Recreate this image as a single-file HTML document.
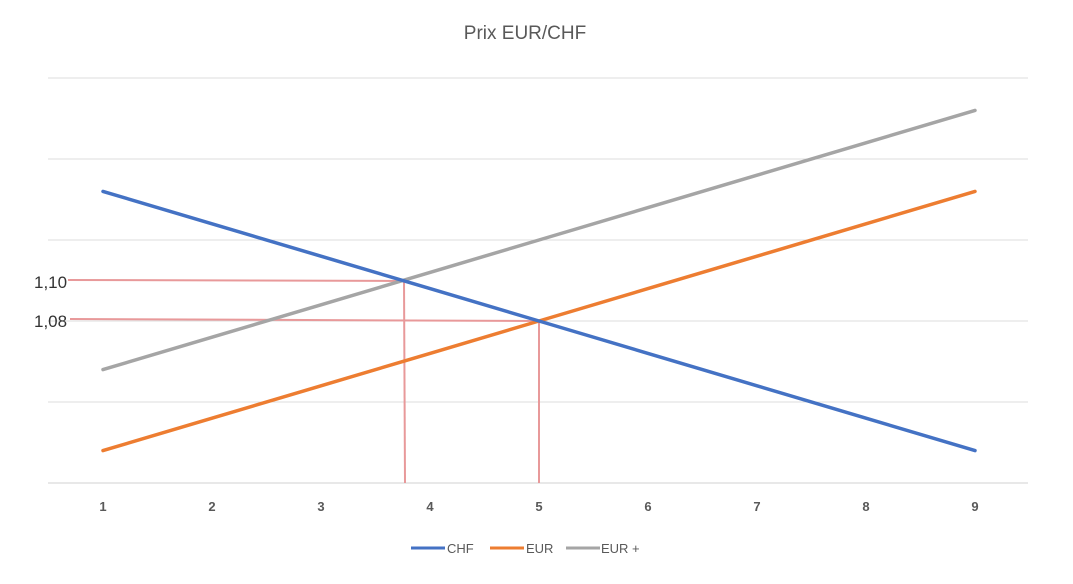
<!DOCTYPE html>
<html><head><meta charset="utf-8"><style>
html,body{margin:0;padding:0;background:#fff;}
svg{display:block;font-family:"Liberation Sans",sans-serif;}
</style></head><body>
<svg width="1073" height="584" viewBox="0 0 1073 584">
<text x="525" y="39" text-anchor="middle" font-size="19" fill="#595959">Prix EUR/CHF</text>
<g id="grid"></g>
<g id="xticks"></g>
<g stroke="#e8999a" stroke-width="2" fill="none">
<line x1="68" y1="280" x2="404" y2="281"/>
<line x1="70" y1="319" x2="539" y2="321"/>
<line x1="404" y1="280" x2="405" y2="483"/>
<line x1="539" y1="321" x2="539" y2="483"/>
</g>
<text x="34" y="288" font-size="17" fill="#333">1,10</text>
<text x="34" y="327" font-size="17" fill="#333">1,08</text>
<g id="series"></g>
<g font-size="13" fill="#595959">
<g><line x1="411" y1="548" x2="445" y2="548" stroke="#4472c4" stroke-width="3"/><text x="447" y="553">CHF</text></g>
<g><line x1="490" y1="548" x2="524" y2="548" stroke="#ed7d31" stroke-width="3"/><text x="526" y="553">EUR</text></g>
<g><line x1="566" y1="548" x2="600" y2="548" stroke="#a5a5a5" stroke-width="3"/><text x="601" y="553">EUR +</text></g>
</g>
</svg>
<script>
const categories = ["1","2","3","4","5","6","7","8","9"];
const chfValues = [3.6,3.2,2.8,2.4,2.0,1.6,1.2,0.8,0.4];
const eurValues = [0.4,0.8,1.2,1.6,2.0,2.4,2.8,3.2,3.6];
const eurPlusValues = [1.4,1.8,2.2,2.6,3.0,3.4,3.8,4.2,4.6];
const gridValues = [0,1,2,3,4,5];

const NS = "http://www.w3.org/2000/svg";
function xPos(i){ return 103 + i*109; }
function yPos(v){ return 483 - v*81; }

const grid = document.getElementById('grid');
gridValues.forEach(v=>{
  const l = document.createElementNS(NS,'line');
  l.setAttribute('x1',48); l.setAttribute('x2',1028);
  l.setAttribute('y1',yPos(v)); l.setAttribute('y2',yPos(v));
  l.setAttribute('stroke', v===0 ? '#d0d0d0' : '#dcdcdc'); l.setAttribute('stroke-width',1);
  
  
  grid.appendChild(l);
});
const xt = document.getElementById('xticks');
categories.forEach((c,i)=>{
  const t = document.createElementNS(NS,'text');
  t.setAttribute('x',xPos(i)); t.setAttribute('y',511);
  t.setAttribute('text-anchor','middle'); t.setAttribute('font-size',13);
  t.setAttribute('font-weight','bold'); t.setAttribute('fill','#595959');
  t.textContent = c;
  
  
  xt.appendChild(t);
});
const seriesG = document.getElementById('series');
function drawSeries(vals, color, name){
  const p = document.createElementNS(NS,'polyline');
  p.setAttribute('points', vals.map((v,i)=>xPos(i)+','+yPos(v)).join(' '));
  p.setAttribute('fill','none'); p.setAttribute('stroke',color);
  p.setAttribute('stroke-width',3.5); p.setAttribute('stroke-linecap','round');
  
  
  seriesG.appendChild(p);
}
drawSeries(eurPlusValues,'#a5a5a5','line-eur-plus');
drawSeries(eurValues,'#ed7d31','line-eur');
drawSeries(chfValues,'#4472c4','line-chf');
</script>
</body></html>
